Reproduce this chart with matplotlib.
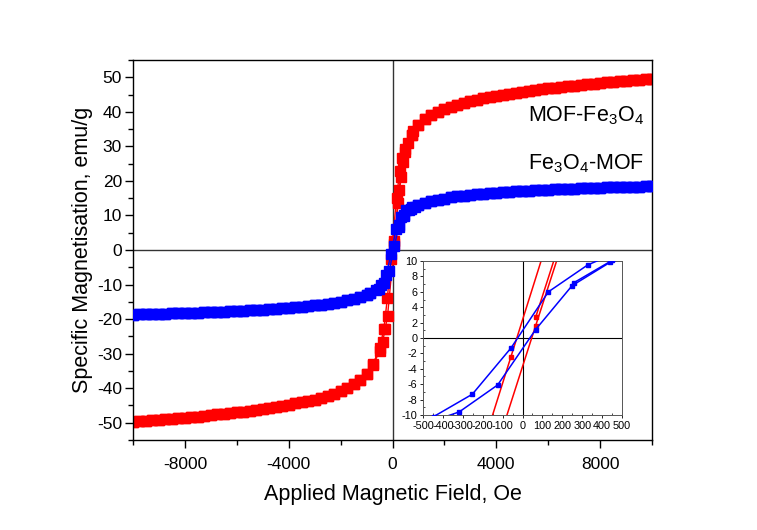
import matplotlib
matplotlib.use("Agg")
import matplotlib.pyplot as plt
import numpy as np

plt.rcParams['font.family'] = ['Liberation Sans', 'DejaVu Sans']
plt.rcParams['mathtext.default'] = 'regular'
plt.rcParams['axes.unicode_minus'] = False

# high-field points (same field list used on both sides)
h_hi = [1000, 1250, 1500, 1750, 2000, 2250, 2500, 2750, 3000, 3250, 3500, 3750,
        4000, 4250, 4500, 4750, 5000, 5250, 5500, 5750, 6000, 6250, 6500, 6750,
        7000, 7250, 7500, 7750, 8000, 8250, 8500, 8750, 9000, 9250, 9500, 9750, 10000]
h_hi_neg = [-1000, -1250, -1500, -1750, -2000, -2250, -2500, -2750, -3000, -3250, -3500, -3750,
            -4000, -4250, -4500, -4750, -5000, -5250, -5500, -5750, -6000, -6250, -6500, -6750,
            -7000, -7250, -7500, -7750, -8000, -8250, -8500, -8750, -9000, -9250, -9500, -9750, -10000]

# MOF-Fe3O4 (red)
red_hi_pos = [36.3, 37.8, 39.0, 40.0, 40.8, 41.5, 42.1, 42.6, 43.1, 43.5, 43.9, 44.3,
              44.6, 44.9, 45.2, 45.5, 45.8, 46.0, 46.3, 46.5, 46.8, 47.0, 47.2, 47.4,
              47.6, 47.8, 48.0, 48.1, 48.3, 48.5, 48.6, 48.8, 48.9, 49.1, 49.2, 49.4, 49.5]
red_hi_neg = [-36.0, -37.6, -38.9, -40.0, -40.9, -41.6, -42.3, -42.8, -43.3, -43.7, -44.1, -44.4,
              -44.8, -45.1, -45.4, -45.7, -46.0, -46.3, -46.5, -46.8, -47.0, -47.2, -47.4, -47.6,
              -47.8, -48.0, -48.2, -48.4, -48.6, -48.7, -48.9, -49.0, -49.2, -49.3, -49.4, -49.6, -49.7]
red_dn_h = [750, 500, 380, 280, 154, -59, -199, -335, -500, -750]
red_dn_m = [33.3, 29.3, 26.5, 23.0, 15.0, -2.5, -14.0, -23.0, -28.5, -33.0]
red_up_h = [-750, -500, -380, -280, -190, 66, 215, 330, 500, 750]
red_up_m = [-33.3, -29.3, -26.5, -22.8, -19.0, 1.6, 13.5, 21.0, 28.5, 33.3]
red_init_h = [66, 250, 400, 600, 800]
red_init_m = [2.7, 17.5, 25.5, 31.0, 34.5]

# Fe3O4-MOF (blue)
blue_hi_pos = [13.0, 13.6, 14.1, 14.5, 14.9, 15.2, 15.5, 15.7, 15.9, 16.1, 16.3, 16.5,
               16.6, 16.75, 16.9, 17.0, 17.1, 17.2, 17.3, 17.4, 17.5, 17.6, 17.7, 17.75,
               17.8, 17.9, 17.95, 18.0, 18.05, 18.1, 18.15, 18.2, 18.25, 18.3, 18.35, 18.4, 18.45]
blue_hi_neg = [-13.0, -13.6, -14.1, -14.6, -15.0, -15.3, -15.6, -15.8, -16.0, -16.2, -16.4, -16.6,
               -16.8, -16.9, -17.0, -17.15, -17.3, -17.4, -17.5, -17.6, -17.7, -17.8, -17.85, -17.9,
               -18.0, -18.05, -18.1, -18.2, -18.25, -18.3, -18.35, -18.4, -18.5, -18.55, -18.6, -18.65, -18.7]
blue_dn_h = [750, 520, 328, 130, -58, -252, -446, -640, -850]
blue_dn_m = [12.4, 11.6, 9.5, 6.0, -1.3, -7.3, -10.2, -11.6, -12.4]
blue_up_h = [-850, -520, -318, -125, 66, 249, 441, 640, 850]
blue_up_m = [-12.4, -11.4, -9.6, -6.1, 1.1, 6.8, 9.85, 11.5, 12.4]
blue_init_h = [259, 451, 700]
blue_init_m = [7.2, 10.1, 12.0]


def branches(hi_pos, hi_neg, dn_h, dn_m, up_h, up_m):
    dn_x = h_hi[::-1] + dn_h + h_hi_neg
    dn_y = hi_pos[::-1] + dn_m + hi_neg
    up_x = h_hi_neg[::-1] + up_h + h_hi
    up_y = hi_neg[::-1] + up_m + hi_pos
    return (dn_x, dn_y), (up_x, up_y)


red_dn, red_up = branches(red_hi_pos, red_hi_neg, red_dn_h, red_dn_m, red_up_h, red_up_m)
blue_dn, blue_up = branches(blue_hi_pos, blue_hi_neg, blue_dn_h, blue_dn_m, blue_up_h, blue_up_m)

fig = plt.figure(figsize=(7.57, 5.30), dpi=100)
ax = fig.add_axes([0.1757, 0.1698, 0.6856, 0.717])

ax.axhline(0, color='#333333', lw=1.0, zorder=1)
ax.axvline(0, color='#333333', lw=1.0, zorder=1)

for seg in [red_dn, red_up, (red_init_h, red_init_m)]:
    ax.plot(seg[0], seg[1], color='red', marker='s', ms=6.8, lw=1, zorder=2)
for seg in [blue_dn, blue_up, (blue_init_h, blue_init_m)]:
    ax.plot(seg[0], seg[1], color='blue', marker='s', ms=6.8, lw=1, zorder=3)

ax.set_xlim(-10000, 10000)
ax.set_ylim(-55, 55)
ax.set_xticks([-8000, -4000, 0, 4000, 8000])
ax.set_xticks([-10000, -6000, -2000, 2000, 6000, 10000], minor=True)
ax.set_yticks(np.arange(-50, 51, 10))
ax.set_yticks(np.arange(-55, 56, 5), minor=True)
ax.tick_params(which='major', direction='out', length=6, width=1, labelsize=12.5)
ax.tick_params(axis='y', which='major', pad=2)
ax.tick_params(axis='x', which='major', pad=6)
ax.tick_params(which='minor', direction='out', length=3.5, width=1)
for s in ax.spines.values():
    s.set_linewidth(1)
ax.set_xlabel('Applied Magnetic Field, Oe', fontsize=15.5, labelpad=9)
ax.set_ylabel('Specific Magnetisation, emu/g', fontsize=15.5, labelpad=3)

ax.text(9700, 39, 'MOF-Fe$_3$O$_4$', fontsize=15.5, ha='right', va='center')
ax.text(9700, 25, 'Fe$_3$O$_4$-MOF', fontsize=15.5, ha='right', va='center')

# inset
ins = fig.add_axes([0.5588, 0.217, 0.2629, 0.2905])
ins.axhline(0, color='black', lw=0.8, zorder=1)
ins.axvline(0, color='black', lw=0.8, zorder=1)
for seg in [red_dn, red_up, (red_init_h, red_init_m)]:
    ins.plot(seg[0], seg[1], color='red', marker='s', ms=3.5, lw=1.1, zorder=2)
for seg in [blue_dn, blue_up, (blue_init_h, blue_init_m)]:
    ins.plot(seg[0], seg[1], color='blue', marker='s', ms=3.5, lw=1.1, zorder=3)
ins.set_xlim(-500, 500)
ins.set_ylim(-10, 10)
ins.set_xticks(np.arange(-500, 501, 100))
ins.set_yticks(np.arange(-10, 11, 2))
ins.set_yticks(np.arange(-10, 11, 1), minor=True)
ins.set_xticks(np.arange(-500, 501, 50), minor=True)
ins.tick_params(which='major', direction='out', length=2.5, width=0.6, labelsize=7.8, pad=1.5)
ins.tick_params(which='minor', direction='in', length=1.5, width=0.5)
for s in ins.spines.values():
    s.set_linewidth(0.7)
    s.set_color('#555555')

fig.savefig('out.png', dpi=100)
